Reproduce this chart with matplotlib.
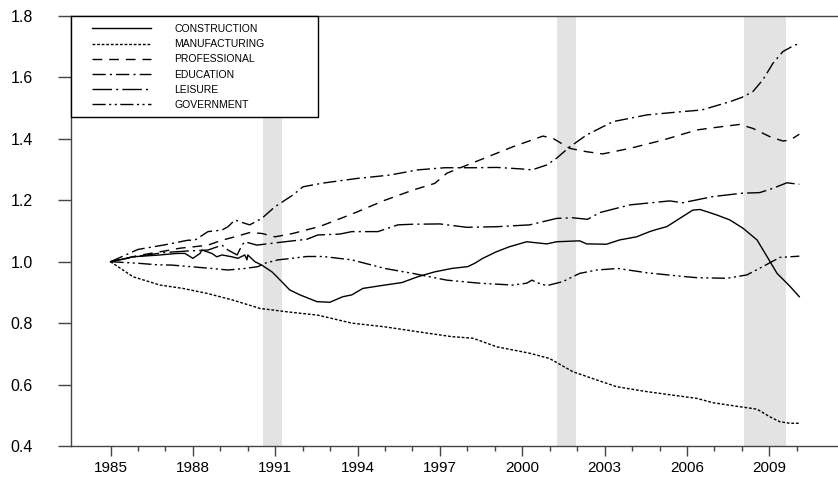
import matplotlib
matplotlib.use("Agg")
import matplotlib.pyplot as plt
from matplotlib.patches import Rectangle
from matplotlib.ticker import MultipleLocator, FixedLocator, FormatStrFormatter

plt.rcParams['font.family'] = ['Liberation Sans', 'DejaVu Sans']

# ---------------- data ----------------
construction_years = [1985.0, 1985.82, 1986.80, 1987.42, 1987.71, 1988.00, 1988.26, 1988.33, 1988.69,
                      1988.87, 1989.06, 1989.42, 1989.64, 1989.89, 1989.97, 1990.00, 1990.26, 1990.51,
                      1990.88, 1991.06, 1991.53, 1991.90, 1992.52, 1992.99, 1993.46, 1993.79, 1994.19,
                      1994.99, 1995.61, 1996.19, 1996.81, 1997.43, 1998.01, 1998.27, 1998.56, 1999.07,
                      1999.54, 2000.16, 2000.89, 2001.25, 2002.09, 2002.34, 2003.07, 2003.55, 2004.16,
                      2004.64, 2004.89, 2005.26, 2005.84, 2006.21, 2006.47, 2006.72, 2007.09, 2007.56,
                      2008.04, 2008.55, 2008.92, 2009.28, 2009.76, 2010.09]
construction = [1.0, 1.016, 1.022, 1.027, 1.027, 1.011, 1.027, 1.038, 1.027,
                1.016, 1.022, 1.016, 1.011, 1.022, 1.006, 1.022, 1.0, 0.989,
                0.967, 0.951, 0.908, 0.892, 0.870, 0.868, 0.886, 0.892, 0.913,
                0.924, 0.932, 0.951, 0.967, 0.978, 0.984, 0.995, 1.011, 1.033,
                1.049, 1.065, 1.058, 1.065, 1.068, 1.058, 1.057, 1.071, 1.081,
                1.098, 1.105, 1.114, 1.147, 1.168, 1.170, 1.163, 1.152, 1.136,
                1.109, 1.071, 1.016, 0.962, 0.919, 0.886]

manufacturing_years = [1985.0, 1985.82, 1986.80, 1987.64, 1988.51, 1989.46, 1990.44, 1991.42, 1992.55,
                       1993.79, 1994.99, 1996.19, 1997.43, 1998.20, 1999.07, 2000.27, 2000.99, 2001.84,
                       2002.71, 2003.44, 2004.54, 2006.36, 2006.94, 2007.92, 2008.55, 2009.02, 2009.38,
                       2009.75, 2010.09]
manufacturing = [1.0, 0.951, 0.924, 0.913, 0.897, 0.875, 0.848, 0.837, 0.826,
                 0.800, 0.788, 0.772, 0.756, 0.751, 0.723, 0.702, 0.685, 0.642,
                 0.615, 0.593, 0.577, 0.555, 0.541, 0.528, 0.520, 0.495, 0.479,
                 0.474, 0.474]

professional_years = [1985.0, 1986.0, 1986.98, 1987.53, 1988.07, 1988.55, 1989.06, 1989.53, 1990.07,
                      1990.51, 1990.99, 1991.35, 1991.64, 1992.63, 1993.79, 1994.99, 1996.01, 1996.81,
                      1997.25, 1997.83, 1998.45, 1999.65, 2000.75, 2001.11, 2001.73, 2002.35, 2002.93,
                      2003.92, 2005.12, 2006.36, 2006.94, 2007.92, 2008.40, 2009.02, 2009.49, 2009.75,
                      2010.09]
professional = [1.0, 1.020, 1.035, 1.044, 1.049, 1.054, 1.070, 1.081, 1.095,
                1.092, 1.081, 1.087, 1.092, 1.115, 1.155, 1.200, 1.233, 1.255,
                1.288, 1.309, 1.331, 1.374, 1.409, 1.402, 1.369, 1.358, 1.351,
                1.369, 1.396, 1.429, 1.436, 1.447, 1.434, 1.407, 1.393, 1.396,
                1.415]

education_years = [1985.0, 1986.0, 1986.98, 1987.82, 1988.07, 1988.55, 1989.06, 1989.28, 1989.53,
                   1989.89, 1990.07, 1990.51, 1990.99, 1991.35, 1991.64, 1992.01, 1992.74, 1993.97,
                   1995.17, 1996.19, 1997.18, 1998.27, 1999.07, 1999.98, 2000.35, 2000.89, 2001.25,
                   2001.73, 2002.35, 2003.30, 2004.54, 2005.74, 2006.54, 2007.56, 2008.0, 2008.40,
                   2008.76, 2009.13, 2009.49, 2009.93, 2010.09]
education = [1.0, 1.040, 1.055, 1.070, 1.070, 1.098, 1.103, 1.114, 1.136,
             1.125, 1.120, 1.141, 1.179, 1.200, 1.217, 1.244, 1.256, 1.271,
             1.282, 1.299, 1.306, 1.306, 1.307, 1.302, 1.299, 1.315, 1.337,
             1.374, 1.413, 1.456, 1.478, 1.488, 1.494, 1.521, 1.535, 1.554,
             1.592, 1.646, 1.684, 1.706, 1.708]

leisure_years = [1985.0, 1986.0, 1986.98, 1987.82, 1988.55, 1989.06, 1989.28, 1989.61, 1989.79,
                 1989.89, 1990.33, 1990.88, 1991.35, 1992.15, 1992.55, 1993.35, 1993.79, 1994.74,
                 1995.47, 1996.01, 1997.0, 1997.98, 1999.07, 2000.27, 2001.25, 2001.84, 2002.38,
                 2002.82, 2003.92, 2005.37, 2005.84, 2006.94, 2008.0, 2008.65, 2009.13, 2009.64,
                 2010.09]
leisure = [1.0, 1.018, 1.030, 1.035, 1.038, 1.054, 1.038, 1.022, 1.054,
           1.065, 1.054, 1.060, 1.065, 1.073, 1.087, 1.090, 1.098, 1.098,
           1.120, 1.122, 1.123, 1.112, 1.114, 1.120, 1.141, 1.143, 1.138,
           1.160, 1.185, 1.198, 1.192, 1.212, 1.223, 1.225, 1.239, 1.257,
           1.252]

government_years = [1985.0, 1986.0, 1986.69, 1987.24, 1987.89, 1988.69, 1989.28, 1989.89, 1990.37,
                    1990.62, 1991.10, 1991.61, 1992.15, 1992.74, 1993.79, 1994.99, 1996.01, 1997.25,
                    1998.45, 1999.65, 2000.16, 2000.35, 2000.53, 2000.89, 2001.47, 2002.09, 2002.71,
                    2003.48, 2004.54, 2005.74, 2006.36, 2007.45, 2008.18, 2008.76, 2009.38, 2010.09]
government = [1.0, 0.995, 0.990, 0.989, 0.984, 0.978, 0.973, 0.978, 0.984,
              0.995, 1.006, 1.011, 1.017, 1.017, 1.006, 0.978, 0.962, 0.940,
              0.930, 0.924, 0.930, 0.940, 0.932, 0.922, 0.935, 0.962, 0.973,
              0.978, 0.964, 0.953, 0.948, 0.946, 0.957, 0.984, 1.014, 1.018]

recession_starts = [1990.54, 2001.27, 2008.09]
recession_ends = [1991.23, 2001.96, 2009.60]

labels = ["CONSTRUCTION", "MANUFACTURING", "PROFESSIONAL", "EDUCATION", "LEISURE", "GOVERNMENT"]
year_ticks = [1985, 1988, 1991, 1994, 1997, 2000, 2003, 2006, 2009]

# ---------------- figure ----------------
W, H = 838, 479
fig = plt.figure(figsize=(W / 100, H / 100), dpi=100)
ax = fig.add_axes([71 / W, 33 / H, 767 / W, 430 / H])

for s, e in zip(recession_starts, recession_ends):
    ax.axvspan(s, e, color='#e3e3e3', lw=0, zorder=0)

lw = 1.0
styles = [
    dict(linestyle='-'),
    dict(linestyle=(0, (2.0, 1.3))),
    dict(linestyle=(0, (7.0, 5.0))),
    dict(linestyle=(0, (9.5, 3.0, 1.5, 3.0))),
    dict(linestyle=(0, (14.0, 3.0, 1.5, 3.0))),
    dict(linestyle=(0, (9.5, 2.5, 1.5, 2.5, 1.5, 2.5))),
]
series = [(construction_years, construction), (manufacturing_years, manufacturing),
          (professional_years, professional), (education_years, education),
          (leisure_years, leisure), (government_years, government)]
handles = []
for (xs, ys), st, lab in zip(series, styles, labels):
    h, = ax.plot(xs, ys, color='black', lw=lw, label=lab, zorder=3, **st)
    handles.append(h)

ax.set_xlim(1983.56, 2011.5)
ax.set_ylim(0.4, 1.8)

ax.xaxis.set_major_locator(FixedLocator(year_ticks))
ax.xaxis.set_minor_locator(FixedLocator(list(range(1985, 2011))))
ax.yaxis.set_major_locator(MultipleLocator(0.2))
ax.yaxis.set_major_formatter(FormatStrFormatter('%.1f'))

spine_col = '#444444'
for side in ['left', 'bottom', 'top']:
    ax.spines[side].set_color(spine_col)
    ax.spines[side].set_linewidth(1.0)
ax.spines['right'].set_visible(False)

ax.tick_params(axis='y', which='major', direction='out', length=9.4, width=1.0,
               color=spine_col, labelsize=11.5, pad=18)
ax.tick_params(axis='x', which='major', direction='out', length=7, width=1.0,
               color=spine_col, labelsize=11, pad=4)
ax.tick_params(axis='x', which='minor', direction='out', length=3.5, width=1.0,
               color=spine_col)

# legend box
box_w = 247 / 767
box_h = 101 / 430
ax.add_patch(Rectangle((0, 1 - box_h), box_w, box_h, transform=ax.transAxes,
                       facecolor='white', edgecolor='black', lw=1.0, zorder=5, clip_on=False))
leg = ax.legend(handles=handles, loc='upper left', bbox_to_anchor=(21 / 767, 1 - 8 / 430),
                frameon=False, fontsize=7.5, handlelength=5.7, handletextpad=2.2,
                labelspacing=0.5, borderpad=0, borderaxespad=0)
leg.set_zorder(6)

fig.savefig('out.png', dpi=100)
